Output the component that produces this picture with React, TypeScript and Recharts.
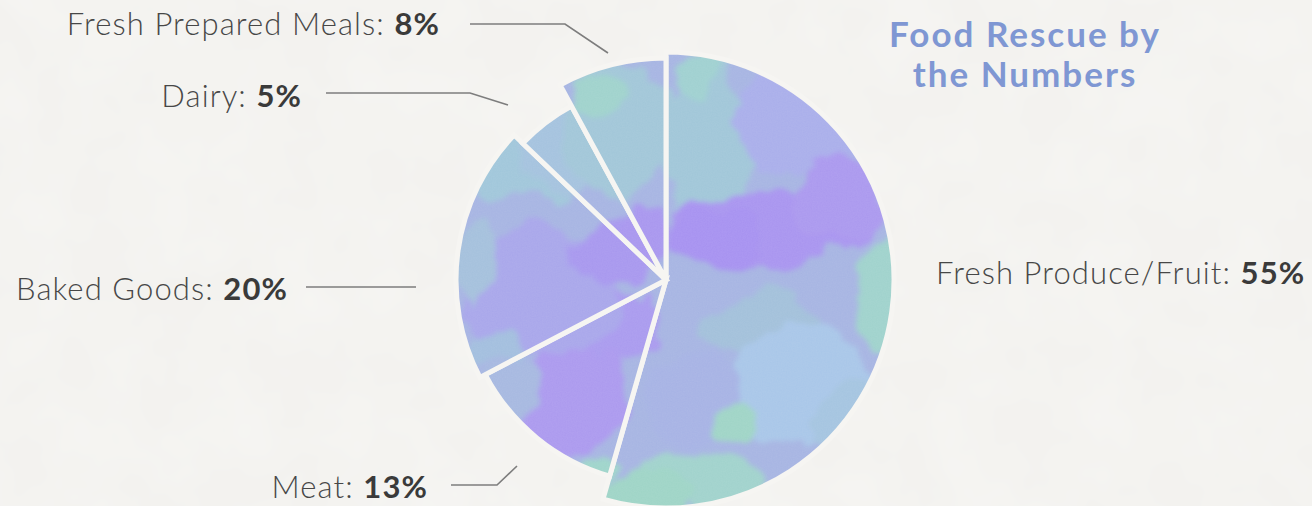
import React from 'react';
import { PieChart, Pie, Cell } from 'recharts';

// ---------- data ----------
const categories = ['Fresh Produce/Fruit', 'Meat', 'Baked Goods', 'Dairy', 'Fresh Prepared Meals'];
const shares = [55, 13, 20, 5, 8];
const shareLabels = ['55%', '13%', '20%', '5%', '8%'];
const titleLines = ['Food Rescue by', 'the Numbers'];

const pieData = categories.map((name, i) => ({ name, value: shares[i] }));

// ---------- layout / style ----------
const W = 1312;
const H = 506;
const CX = 666;
const CY = 280;
const sliceRadii = [228, 204, 210, 198, 222];
const GAP = '#f6f5f2';
const BG = '#f3f2ef';
const FONT = 'Lato, "Open Sans", sans-serif';

type LabelLayout = { leader: [number, number][]; text: [number, number]; anchor: 'start' | 'end' };
// offsets relative to the pie centre
const labelLayout: LabelLayout[] = [
  { leader: [], text: [270, 4], anchor: 'start' },
  { leader: [[-149, 186], [-169, 205], [-215, 205]], text: [-238, 218], anchor: 'end' },
  { leader: [[-250, 7], [-360, 7]], text: [-378, 20], anchor: 'end' },
  { leader: [[-158, -175], [-196, -187], [-340, -187]], text: [-364, -173], anchor: 'end' },
  { leader: [[-58, -227], [-101, -256], [-196, -256]], text: [-226, -245], anchor: 'end' },
];

// watercolour blobs (decoration of the fill pattern): cx, cy, rx, ry, colour
const blobs: [number, number, number, number, string][] = [
  // fresh produce
  [705, 140, 45, 85, '#a0c6d8'],
  [690, 80, 25, 25, '#9fd0d0'],
  [800, 120, 70, 50, '#a9aeea'],
  [770, 228, 95, 38, '#a894ef'],
  [835, 200, 45, 40, '#aa98ee'],
  [718, 238, 45, 30, '#a691f0'],
  [884, 290, 28, 55, '#9fd2cc'],
  [760, 330, 60, 35, '#a2c0da'],
  [800, 385, 70, 60, '#a8c6e8'],
  [690, 400, 45, 50, '#a6b2e4'],
  [738, 425, 25, 20, '#9fd4c6'],
  [700, 482, 60, 24, '#a0d2cc'],
  [645, 495, 40, 15, '#9ed4c6'],
  [850, 420, 30, 40, '#a4c4e0'],
  // meat
  [570, 395, 55, 60, '#ab99ee'],
  [625, 325, 35, 40, '#a99aee'],
  [508, 392, 28, 28, '#a6b8e0'],
  [605, 470, 22, 14, '#9ed4ca'],
  // baked goods
  [545, 290, 85, 65, '#a8a6ea'],
  [520, 172, 60, 30, '#a0c6da'],
  [472, 262, 20, 40, '#a4c0dc'],
  [612, 250, 40, 35, '#a797ee'],
  [490, 345, 25, 20, '#a2bede'],
  // dairy
  [562, 150, 40, 40, '#a4c2de'],
  // fresh prepared meals
  [620, 130, 50, 70, '#a1c6d8'],
  [600, 100, 25, 15, '#9fd2cc'],
  [645, 232, 28, 30, '#a896ee'],
];

const renderLabel = (props: any) => {
  const { cx, cy, index } = props;
  const lay = labelLayout[index];
  if (!lay) return <g />;
  const pts = lay.leader.map(([dx, dy]) => `${cx + dx},${cy + dy}`).join(' ');
  return (
    <g>
      {lay.leader.length > 0 && (
        <polyline points={pts} fill="none" stroke="#7d7d7d" strokeWidth={1.6} />
      )}
      <text
        x={cx + lay.text[0]}
        y={cy + lay.text[1]}
        textAnchor={lay.anchor}
        fontFamily={FONT}
        fontSize={31}
        letterSpacing={1.1}
        style={{ whiteSpace: 'pre' }}
      >
        <tspan fill="#474747" fontWeight={300}>{categories[index] + ': '}</tspan>
        <tspan fill="#3a3a3a" fontWeight={700}>{shareLabels[index]}</tspan>
      </text>
    </g>
  );
};

export default function App() {
  return (
    <div style={{ position: 'absolute', left: 0, top: 0, width: W, height: H, background: BG }}>
      <svg width={W} height={H} style={{ position: 'absolute', left: 0, top: 0 }}>
        <defs>
          <filter id="wcFx" x="-10%" y="-10%" width="120%" height="120%">
            <feTurbulence type="fractalNoise" baseFrequency="0.02" numOctaves="4" seed="4" result="noise" />
            <feDisplacementMap in="SourceGraphic" in2="noise" scale="45" xChannelSelector="R" yChannelSelector="G" result="disp" />
            <feGaussianBlur in="disp" stdDeviation="2.5" />
          </filter>
          <filter id="grainFx">
            <feTurbulence type="fractalNoise" baseFrequency="0.8" numOctaves="2" seed="2" result="n" />
            <feColorMatrix in="n" type="matrix" values="0 0 0 0 1  0 0 0 0 1  0 0 0 0 1  0 0 0 0.08 0" />
          </filter>
          <filter id="paperFx">
            <feTurbulence type="fractalNoise" baseFrequency="0.015" numOctaves="3" seed="7" result="n" />
            <feColorMatrix in="n" type="matrix" values="0 0 0 0 1  0 0 0 0 1  0 0 0 0 1  0 0 0 0.35 -0.1" />
          </filter>
          <pattern id="wc" patternUnits="userSpaceOnUse" x="0" y="0" width={W} height={H}>
            <rect width={W} height={H} fill="#a6b4e2" />
            <g filter="url(#wcFx)">
              {blobs.map(([x, y, rx, ry, c], i) => (
                <ellipse key={i} cx={x} cy={y} rx={rx} ry={ry} fill={c} />
              ))}
            </g>
            <rect width={W} height={H} filter="url(#grainFx)" />
          </pattern>
        </defs>
        <rect width={W} height={H} fill={BG} />
        <rect width={W} height={H} filter="url(#paperFx)" />
        {titleLines.map((t, i) => (
          <text
            key={t}
            x={1025}
            y={47 + i * 40}
            textAnchor="middle"
            fontFamily={FONT}
            fontWeight={700}
            fontSize={35}
            letterSpacing={2}
            fill="#7f97d3"
          >
            {t}
          </text>
        ))}
      </svg>
      <div style={{ position: 'absolute', left: 0, top: 0 }}>
        <PieChart width={W} height={H} margin={{ top: 0, right: 0, bottom: 0, left: 0 }}>
          {categories.map((cat, k) => (
            <Pie
              key={cat}
              data={pieData}
              dataKey="value"
              nameKey="name"
              cx={CX}
              cy={CY}
              innerRadius={0}
              outerRadius={sliceRadii[k]}
              startAngle={90}
              endAngle={-270}
              stroke="none"
              label={k === 0 ? renderLabel : false}
              labelLine={false}
              isAnimationActive={false}
            >
              {pieData.map((d, i) => (
                <Cell
                  key={d.name}
                  fill={i === k ? 'url(#wc)' : 'none'}
                  stroke={i === k ? GAP : 'none'}
                  strokeWidth={i === k ? 5 : 0}
                />
              ))}
            </Pie>
          ))}
        </PieChart>
      </div>
    </div>
  );
}
